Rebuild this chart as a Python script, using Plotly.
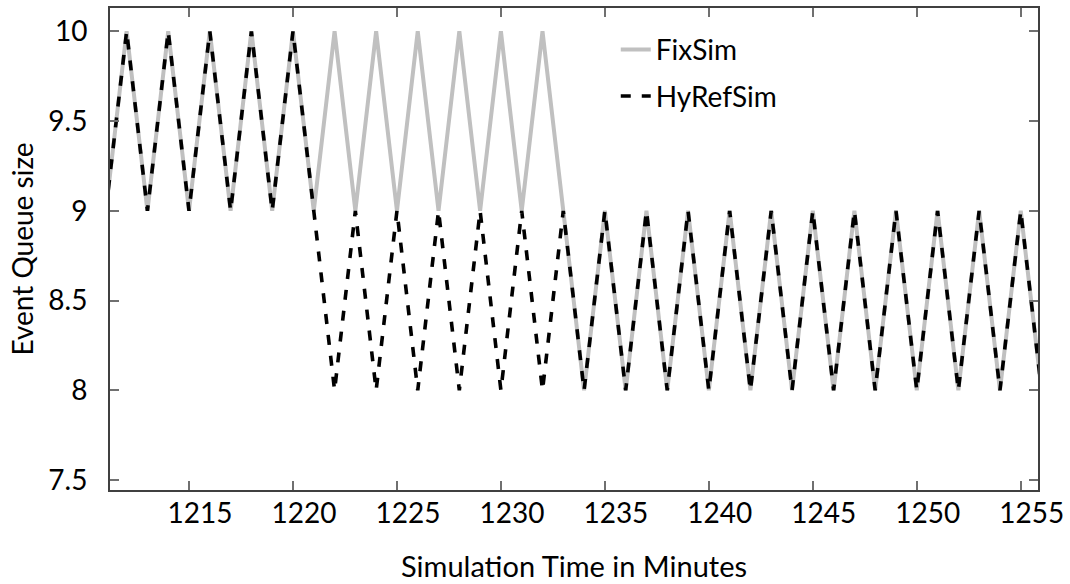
import plotly.graph_objects as go

minutes = list(range(1211, 1257))
fixsim = [9, 10, 9, 10, 9, 10, 9, 10, 9, 10, 9, 10, 9, 10, 9, 10, 9, 10, 9, 10, 9, 10,
          9, 8, 9, 8, 9, 8, 9, 8, 9, 8, 9, 8, 9, 8, 9, 8, 9, 8, 9, 8, 9, 8, 9, 8]
hyrefsim = [9, 10, 9, 10, 9, 10, 9, 10, 9, 10,
            9, 8, 9, 8, 9, 8, 9, 8, 9, 8, 9, 8, 9, 8, 9, 8, 9, 8, 9, 8, 9, 8, 9, 8, 9, 8,
            9, 8, 9, 8, 9, 8, 9, 8, 9, 8]
x_ticks = [1215, 1220, 1225, 1230, 1235, 1240, 1245, 1250, 1255]
y_ticks = [7.5, 8, 8.5, 9, 9.5, 10]

FONT = "Lato"

fig = go.Figure()
fig.add_trace(go.Scatter(x=minutes, y=fixsim, mode="lines", name="FixSim",
                         line=dict(color="rgb(192,192,192)", width=4),
                         legendgroup="a"))
fig.add_trace(go.Scatter(x=minutes, y=hyrefsim, mode="lines", name="HyRefSim",
                         line=dict(color="black", width=3.6, dash="10px,11px"),
                         legendgroup="b"))

axis_common = dict(showline=True, linecolor="#404040", linewidth=2, mirror="ticks",
                   ticks="inside", ticklen=9, tickcolor="#707070", tickwidth=2,
                   showgrid=False, zeroline=False,
                   tickfont=dict(family=FONT, size=28, color="black"))

fig.update_xaxes(range=[1211.2, 1255.83], tickvals=x_ticks,
                 ticktext=[str(v) for v in x_ticks],
                 title=dict(text="Simulation Time in Minutes",
                            font=dict(family=FONT, size=29, color="black"), standoff=29),
                 ticklabelstandoff=-3, ticklabelshift=11, **axis_common)
fig.update_yaxes(range=[7.445, 10.13], tickvals=y_ticks,
                 ticktext=["7.5", "8", "8.5", "9", "9.5", "10"],
                 title=dict(text="Event Queue size",
                            font=dict(family=FONT, size=28, color="black"), standoff=7),
                 ticklabelstandoff=15, **axis_common)

fig.update_layout(
    width=1070, height=584,
    margin=dict(l=110, r=31, t=6, b=90),
    plot_bgcolor="white", paper_bgcolor="white",
    showlegend=True,
    legend=dict(x=0.545, y=0.965, xanchor="left", yanchor="top",
                font=dict(family=FONT, size=28, color="black"),
                bgcolor="rgba(0,0,0,0)", tracegroupgap=7),
)

fig.write_html("out.html", config={"displayModeBar": False},
               post_script="document.body.style.margin='0px';")
